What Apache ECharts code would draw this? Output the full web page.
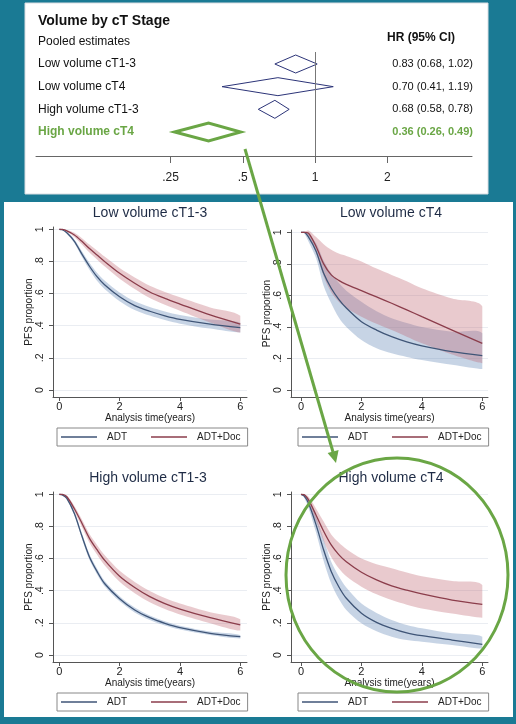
<!DOCTYPE html>
<html><head><meta charset="utf-8">
<script src="https://cdn.jsdelivr.net/npm/echarts@6.0.0/dist/echarts.min.js"></script>
<style>html,body{margin:0;padding:0;background:#1a7a94}#c{width:516px;height:724px}</style>
</head><body><div id="c"></div>
<script>
// ---------- Forest plot data ----------
const forestTitle = 'Volume by cT Stage';
const forestSubtitle = 'Pooled estimates';
const forestHeader = 'HR (95% CI)';
const forestLabels = ['Low volume cT1-3', 'Low volume cT4', 'High volume cT1-3', 'High volume cT4'];
const hrEst  = [0.83, 0.70, 0.68, 0.36];
const hrLow  = [0.68, 0.41, 0.58, 0.26];
const hrHigh = [1.02, 1.19, 0.78, 0.49];
const forestTicks = [0.25, 0.5, 1, 2];
const forestTickLabels = ['.25', '.5', '1', '2'];
const highlightRow = 3;

// ---------- KM panels data ----------
const panelTitles = ['Low volume cT1-3', 'Low volume cT4', 'High volume cT1-3', 'High volume cT4'];
const legendNames = ['ADT', 'ADT+Doc'];
const years = [0, 0.1, 0.25, 0.5, 0.75, 1, 1.25, 1.5, 2, 2.5, 3, 3.5, 4, 5, 6];
const xTicks = [0, 2, 4, 6];
const yTicks = [0, 0.2, 0.4, 0.6, 0.8, 1];
const yTickLabels = ['0', '.2', '.4', '.6', '.8', '1'];
const xAxisTitle = 'Analysis time(years)';
const yAxisTitle = 'PFS proportion';

const adt1   = [1, .997, .978, .925, .845, .770, .705, .655, .580, .525, .490, .462, .440, .410, .388];
const adt1Lo = [1, .995, .972, .913, .827, .748, .680, .629, .553, .498, .463, .435, .413, .382, .358];
const adt1Hi = [1, .999, .984, .937, .863, .792, .730, .681, .607, .552, .517, .489, .467, .438, .418];
const doc1   = [1, .999, .990, .965, .925, .880, .840, .800, .726, .664, .610, .570, .535, .467, .410];
const doc1Lo = [1, .998, .985, .952, .905, .855, .812, .770, .693, .628, .572, .530, .493, .420, .358];
const doc1Hi = [1, 1.00, .995, .978, .945, .905, .868, .830, .759, .700, .648, .610, .577, .514, .462];

const adt2   = [1, 1.00, .970, .880, .740, .645, .575, .520, .433, .380, .338, .305, .280, .243, .218];
const adt2Lo = [1, .995, .940, .835, .660, .550, .460, .400, .317, .265, .233, .210, .190, .160, .133];
const adt2Hi = [1, 1.00, .990, .930, .820, .740, .680, .630, .560, .500, .455, .425, .400, .370, .360];
const doc2   = [1, 1.00, .994, .910, .800, .730, .695, .670, .630, .590, .550, .508, .465, .380, .296];
const doc2Lo = [1, .998, .975, .870, .720, .620, .560, .520, .465, .420, .380, .338, .296, .225, .170];
const doc2Hi = [1, 1.005, 1.012, .970, .925, .890, .865, .850, .815, .770, .730, .690, .645, .580, .530];

const adt3   = [1, .996, .975, .880, .740, .610, .520, .445, .350, .280, .232, .197, .170, .135, .114];
const adt3Lo = [1, .994, .968, .868, .724, .592, .502, .428, .334, .265, .218, .184, .158, .124, .103];
const adt3Hi = [1, .998, .982, .892, .756, .628, .538, .462, .366, .295, .246, .210, .182, .146, .125];
const doc3   = [1, .999, .985, .910, .820, .726, .655, .590, .490, .420, .363, .320, .286, .232, .187];
const doc3Lo = [1, .997, .977, .893, .797, .699, .625, .558, .456, .385, .328, .286, .252, .198, .152];
const doc3Hi = [1, 1.00, .992, .927, .843, .753, .685, .622, .524, .455, .398, .354, .320, .266, .222];

const adt4   = [1, .990, .944, .810, .653, .520, .425, .353, .260, .203, .166, .138, .120, .093, .066];
const adt4Lo = [1, .980, .915, .760, .585, .445, .350, .280, .197, .148, .114, .093, .083, .062, .040];
const adt4Hi = [1, .997, .970, .860, .720, .580, .490, .420, .320, .262, .218, .187, .166, .135, .114];
const doc4   = [1, .998, .965, .870, .770, .685, .625, .580, .515, .467, .430, .403, .380, .342, .315];
const doc4Lo = [1, .993, .940, .830, .710, .610, .540, .490, .425, .378, .342, .313, .290, .258, .232];
const doc4Hi = [1, 1.00, .985, .910, .830, .750, .700, .660, .600, .565, .540, .513, .490, .460, .436];

// ---------- Styling / layout ----------
const FONT = '"Liberation Sans", Arial, sans-serif';
const GREEN = '#6aa645';
const NAVY = '#2c3478';
const ADT_C = '#3f5577';
const DOC_C = '#8b3d4b';
const ADT_BAND = 'rgba(90,130,180,0.34)';
const DOC_BAND = 'rgba(190,100,110,0.34)';
const AXIS_C = '#555';
const TXT_C = '#222';

const layout = [
  {ax: 53,  x0: 59.3, x6: 240.3, right: 247, y1: 229.3, y0: 390, bottom: 397, top: 227, tx: 150, ty: 213, lx: 57,  ly: 428},
  {ax: 291, x0: 301,  x6: 482.3, right: 488, y1: 232.3, y0: 390, bottom: 397, top: 230, tx: 391, ty: 213, lx: 298, ly: 428},
  {ax: 53,  x0: 59.3, x6: 240.3, right: 247, y1: 494.3, y0: 655, bottom: 662, top: 492, tx: 148, ty: 478, lx: 57,  ly: 693},
  {ax: 291, x0: 301,  x6: 482.3, right: 488, y1: 494.3, y0: 655, bottom: 662, top: 492, tx: 391, ty: 478, lx: 298, ly: 693}
];
const panels = [
  {adt: adt1, adtLo: adt1Lo, adtHi: adt1Hi, doc: doc1, docLo: doc1Lo, docHi: doc1Hi},
  {adt: adt2, adtLo: adt2Lo, adtHi: adt2Hi, doc: doc2, docLo: doc2Lo, docHi: doc2Hi},
  {adt: adt3, adtLo: adt3Lo, adtHi: adt3Hi, doc: doc3, docLo: doc3Lo, docHi: doc3Hi},
  {adt: adt4, adtLo: adt4Lo, adtHi: adt4Hi, doc: doc4, docLo: doc4Lo, docHi: doc4Hi}
];

const grids = [{left: 36, top: 52, width: 436, height: 104}];
const xAxes = [{
  gridIndex: 0, type: 'value', min: -3.86, max: 2.17,
  axisLine: {onZero: false, lineStyle: {color: '#666', width: 1}},
  axisTick: {customValues: forestTicks.map(v => Math.log2(v)), length: 7, lineStyle: {color: '#666'}},
  axisLabel: {customValues: forestTicks.map(v => Math.log2(v)), margin: 16, fontSize: 12, color: TXT_C, fontFamily: FONT,
    formatter: v => { const j = forestTicks.findIndex(t => Math.abs(Math.log2(t) - v) < 1e-6); return j >= 0 ? forestTickLabels[j] : ''; }},
  splitLine: {show: false}
}];
const yAxes = [{gridIndex: 0, type: 'value', inverse: true, min: -0.53, max: 4.06, show: false}];
const legends = [];
const series = [];
const graphics = [
  {type: 'rect', z: -5, shape: {x: 25, y: 3, width: 463, height: 191}, style: {fill: '#ffffff', stroke: '#d9dde2', lineWidth: 1}},
  {type: 'rect', z: -5, shape: {x: 4, y: 202, width: 509, height: 515}, style: {fill: '#ffffff'}},
  {type: 'text', x: 38, y: 21, style: {text: forestTitle, fontSize: 14, fontWeight: 'bold', fill: '#111', fontFamily: FONT, verticalAlign: 'middle'}},
  {type: 'text', x: 38, y: 42, style: {text: forestSubtitle, fontSize: 12, fill: '#111', fontFamily: FONT, verticalAlign: 'middle'}},
  {type: 'text', x: 455, y: 38, style: {text: forestHeader, fontSize: 12, fontWeight: 'bold', fill: '#111', fontFamily: FONT, align: 'right', verticalAlign: 'middle'}}
];

// forest series
series.push({
  type: 'custom', xAxisIndex: 0, yAxisIndex: 0, name: 'forest', silent: true,
  encode: {x: [1, 2, 3], y: 0},
  data: forestLabels.map((_, i) => [i, Math.log2(hrLow[i]), Math.log2(hrEst[i]), Math.log2(hrHigh[i])]),
  renderItem: (params, api) => {
    const i = api.value(0);
    const lo = api.coord([api.value(1), i]);
    const mid = api.coord([api.value(2), i]);
    const hi = api.coord([api.value(3), i]);
    const h = 9;
    const hl = i === highlightRow;
    const col = hl ? GREEN : NAVY;
    const txt = hrEst[i].toFixed(2) + ' (' + hrLow[i].toFixed(2) + ', ' + hrHigh[i].toFixed(2) + ')';
    return {type: 'group', children: [
      {type: 'polygon', shape: {points: [[lo[0], mid[1]], [mid[0], mid[1] - h], [hi[0], mid[1]], [mid[0], mid[1] + h]]},
        style: {fill: 'none', stroke: col, lineWidth: hl ? 3 : 1}},
      {type: 'text', x: 38, y: mid[1], style: {text: forestLabels[i], fontSize: 12, fontFamily: FONT, fill: hl ? GREEN : '#111', fontWeight: hl ? 'bold' : 'normal', verticalAlign: 'middle'}},
      {type: 'text', x: 473, y: mid[1], style: {text: txt, fontSize: 11, fontFamily: FONT, fill: hl ? GREEN : '#111', fontWeight: hl ? 'bold' : 'normal', align: 'right', verticalAlign: 'middle'}}
    ]};
  },
  markLine: {silent: true, symbol: 'none', label: {show: false}, lineStyle: {color: '#777', type: 'solid', width: 1}, data: [{xAxis: 0}]}
});

function bandSeries(ai, lo, hi, color, name) {
  return {
    type: 'custom', xAxisIndex: ai, yAxisIndex: ai, name: name, silent: true, z: 1,
    encode: {x: 0, y: [1, 2]},
    data: years.map((t, i) => [t, lo[i], hi[i]]),
    renderItem: (params, api) => {
      if (params.dataIndex !== 0) return {type: 'group', children: []};
      const up = years.map((t, i) => api.coord([t, hi[i]]));
      const dn = years.map((t, i) => api.coord([t, lo[i]])).reverse();
      const pts = up.concat(dn);
      const xs = pts.map(q => q[0]), ys = pts.map(q => q[1]);
      const box = [[Math.min(...xs), Math.min(...ys)], [Math.max(...xs), Math.max(...ys)]];
      return {type: 'polygon', shape: {points: pts, smooth: 0.3, smoothConstraint: box}, style: {fill: color, stroke: 'none'}};
    }
  };
}

// KM panels
panels.forEach((p, k) => {
  const L = layout[k];
  const ai = k + 1;
  const pxYr = (L.x6 - L.x0) / 6;
  const pxU = L.y0 - L.y1;
  grids.push({left: L.ax, top: L.top, width: L.right - L.ax, height: L.bottom - L.top});
  xAxes.push({
    gridIndex: ai, type: 'value', min: (L.ax - L.x0) / pxYr, max: 6 + (L.right - L.x6) / pxYr,
    axisLine: {onZero: false, lineStyle: {color: AXIS_C, width: 1}},
    axisTick: {customValues: xTicks, length: 4, lineStyle: {color: AXIS_C}},
    axisLabel: {customValues: xTicks, margin: 4.5, fontSize: 11, color: TXT_C, fontFamily: FONT},
    splitLine: {show: false},
    name: xAxisTitle, nameLocation: 'middle', nameGap: 15.5,
    nameTextStyle: {fontSize: 10, color: TXT_C, fontFamily: FONT}
  });
  yAxes.push({
    gridIndex: ai, type: 'value', min: -(L.bottom - L.y0) / pxU, max: 1 + (L.y1 - L.top) / pxU,
    axisLine: {show: true, onZero: false, lineStyle: {color: AXIS_C, width: 1}},
    axisTick: {show: true, customValues: yTicks, length: 4, lineStyle: {color: AXIS_C}},
    axisLabel: {customValues: yTicks, rotate: 90, margin: 7, fontSize: 10.5, color: TXT_C, fontFamily: FONT,
      formatter: v => { const j = yTicks.findIndex(t => Math.abs(t - v) < 1e-6); return j >= 0 ? yTickLabels[j] : ''; }},
    splitLine: {show: true, lineStyle: {color: '#eaedf2', width: 1}},
    name: yAxisTitle, nameLocation: 'middle', nameGap: 18,
    nameTextStyle: {fontSize: 10, color: TXT_C, fontFamily: FONT}
  });
  const pts = arr => years.map((t, i) => [t, arr[i]]);
  const base = {type: 'line', xAxisIndex: ai, yAxisIndex: ai, smooth: 0.3, symbol: 'none', showSymbol: false, silent: true, animation: false};
  series.push(bandSeries(ai, p.adtLo, p.adtHi, ADT_BAND, 'adtBand' + k));
  series.push(bandSeries(ai, p.docLo, p.docHi, DOC_BAND, 'docBand' + k));
  series.push(Object.assign({}, base, {name: legendNames[0], data: pts(p.adt), lineStyle: {color: ADT_C, width: 1.3}, itemStyle: {color: ADT_C}, z: 3}));
  series.push(Object.assign({}, base, {name: legendNames[1], data: pts(p.doc), lineStyle: {color: DOC_C, width: 1.3}, itemStyle: {color: DOC_C}, z: 3}));
  legends.push({
    left: L.lx, top: L.ly, orient: 'horizontal', selectedMode: false,
    data: legendNames.map(n => ({name: n, icon: 'rect'})),
    itemWidth: 36, itemHeight: 1.4, itemGap: 24, padding: [4, 7, 4, 4],
    borderColor: '#888', borderWidth: 1,
    textStyle: {fontSize: 10, color: TXT_C, fontFamily: FONT, padding: [0, 0, 0, 5]}
  });
  graphics.push({type: 'text', x: L.tx, y: L.ty, style: {text: panelTitles[k], fontSize: 14, fill: '#1e2b45', fontFamily: FONT, align: 'center', verticalAlign: 'middle'}});
});

// annotation arrow and ellipse
graphics.push({type: 'line', z: 50, shape: {x1: 245, y1: 149, x2: 333, y2: 452}, style: {stroke: GREEN, lineWidth: 3}});
graphics.push({type: 'polygon', z: 50, shape: {points: [[336, 463], [338.6, 449.9], [327.6, 452.9]]}, style: {fill: GREEN}});
graphics.push({type: 'ellipse', z: 50, shape: {cx: 397, cy: 575, rx: 111, ry: 117}, style: {fill: 'none', stroke: GREEN, lineWidth: 3}});

const chart = echarts.init(document.getElementById('c'));
chart.setOption({
  backgroundColor: '#1a7a94',
  animation: false,
  textStyle: {fontFamily: FONT},
  grid: grids, xAxis: xAxes, yAxis: yAxes, legend: legends,
  graphic: {elements: graphics},
  series: series
});
</script></body></html>
